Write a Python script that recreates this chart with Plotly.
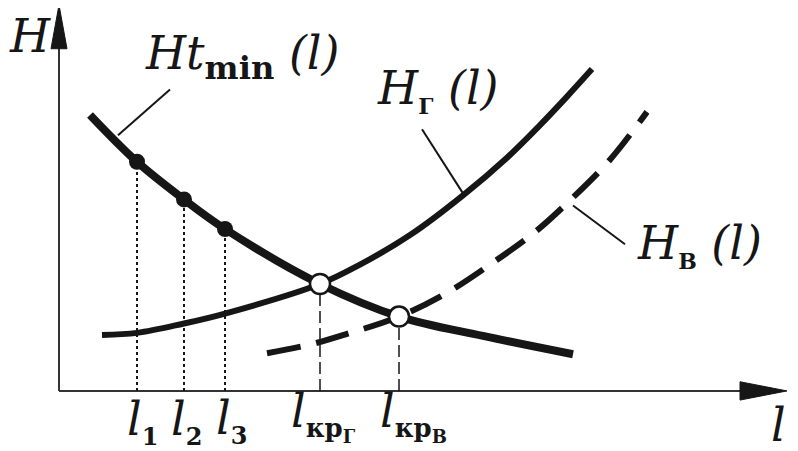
import plotly.graph_objects as go

# curve points (schematic units, origin at the axis corner)
tmin_x = [31, 78, 125, 166, 261, 340, 424, 514]
tmin_y = [271, 225, 188, 159, 105, 73, 54, 36]

hg_x = [43, 78, 124, 166, 261, 301, 351, 404, 448, 481, 508, 533]
hg_y = [55, 57, 66, 76, 105, 124, 153, 192, 229, 261, 289, 316]

hv_x = [208, 253, 288, 340, 389, 431, 476, 513, 551, 588]
hv_y = [37, 46, 56, 73, 97, 124, 156, 189, 227, 274]

# marked points
l_x = [78, 125, 166]
l_y = [225, 188, 159]
kr_x = [261, 340]
kr_y = [105, 73]


def small(s, px):
    return "<span style='font-size:%dpx'><b>%s</b></span>" % (px, s)


tick_text = ["<i>l</i><sub>" + small("1", 24) + "</sub>",
             "<i>l</i><sub>" + small("2", 24) + "</sub>",
             "<i>l</i><sub>" + small("3", 24) + "</sub>",
             "<i>l</i><sub>" + small("кр", 26) + "<sub>" + small("Г", 18) + "</sub></sub>",
             "<i>l</i><sub>" + small("кр", 26) + "<sub>" + small("В", 18) + "</sub></sub>"]
tick_dx = [-12, -15, -11, -31, -21]
tick_y = [-30, -30, -29, -24, -24]

X_END = 728
Y_END = 379
INK = '#161616'
FONT = 'DejaVu Serif'

fig = go.Figure()

# axes
fig.add_shape(type='line', x0=0, y0=0, x1=X_END - 40, y1=0, layer='below', line=dict(color='#333', width=2))
fig.add_shape(type='line', x0=0, y0=0, x1=0, y1=Y_END - 40, layer='below', line=dict(color='#333', width=2))
fig.add_trace(go.Scatter(x=[X_END - 47, X_END, X_END - 47, X_END - 47], y=[-9, 0, 9, -9],
                         fill='toself', fillcolor=INK, mode='lines', line=dict(color=INK, width=1),
                         hoverinfo='skip'))
fig.add_trace(go.Scatter(x=[-8, 0, 8, -8], y=[Y_END - 43, Y_END, Y_END - 43, Y_END - 43],
                         fill='toself', fillcolor=INK, mode='lines', line=dict(color=INK, width=1),
                         hoverinfo='skip'))

# drop lines
for x, y in zip(l_x, l_y):
    fig.add_shape(type='line', x0=x, y0=0, x1=x, y1=y, layer='below',
                  line=dict(color=INK, width=2, dash='dot'))
for x, y in zip(kr_x, kr_y):
    fig.add_shape(type='line', x0=x, y0=0, x1=x, y1=y, layer='below',
                  line=dict(color=INK, width=1.5, dash='12px,5px'))

# curves
fig.add_trace(go.Scatter(x=hg_x, y=hg_y, mode='lines',
                         line=dict(color=INK, width=6, shape='spline', smoothing=1)))
fig.add_trace(go.Scatter(x=hv_x, y=hv_y, mode='lines',
                         line=dict(color=INK, width=6, shape='spline', smoothing=1, dash='34px,16px')))
fig.add_trace(go.Scatter(x=tmin_x, y=tmin_y, mode='lines',
                         line=dict(color=INK, width=8, shape='spline', smoothing=1)))

# points
fig.add_trace(go.Scatter(x=l_x, y=l_y, mode='markers', marker=dict(size=16, color=INK)))
fig.add_trace(go.Scatter(x=kr_x, y=kr_y, mode='markers',
                         marker=dict(size=20, color='white', line=dict(color=INK, width=2.5))))

# leader lines
for x0, y0, x1, y1 in [(59, 251, 111, 296), (363, 257, 404, 194), (514, 182, 566, 144)]:
    fig.add_shape(type='line', x0=x0, y0=y0, x1=x1, y1=y1, layer='below', line=dict(color=INK, width=2))

# labels
big = dict(family=FONT, size=46, color=INK)
fig.add_annotation(x=-29, y=349, text="<i>H</i>", showarrow=False, font=big)
fig.add_annotation(x=84, y=328, text="<i>Ht</i><sub><b>min</b></sub><i> (l)</i>", showarrow=False,
                   font=big, xanchor='left')
fig.add_annotation(x=316, y=295, text="<i>H</i><sub>" + small("Г", 22) + "</sub><i> (l)</i>",
                   showarrow=False, font=big, xanchor='left')
fig.add_annotation(x=576, y=143, text="<i>H</i><sub>" + small("В", 22) + "</sub><i> (l)</i>",
                   showarrow=False, font=big, xanchor='left')
fig.add_annotation(x=719, y=-33, text="<i>l</i>", showarrow=False, font=big)
for x, dx, y, t in zip(l_x + kr_x, tick_dx, tick_y, tick_text):
    fig.add_annotation(x=x + dx, y=y, text=t, showarrow=False, font=big, xanchor='left')

fig.update_xaxes(range=[-51, 739], visible=False)
fig.update_yaxes(range=[-59, 376], visible=False)
fig.update_layout(width=790, height=443, margin=dict(l=0, r=0, t=0, b=0),
                  plot_bgcolor='white', paper_bgcolor='white', showlegend=False)

fig.write_html("out.html")
